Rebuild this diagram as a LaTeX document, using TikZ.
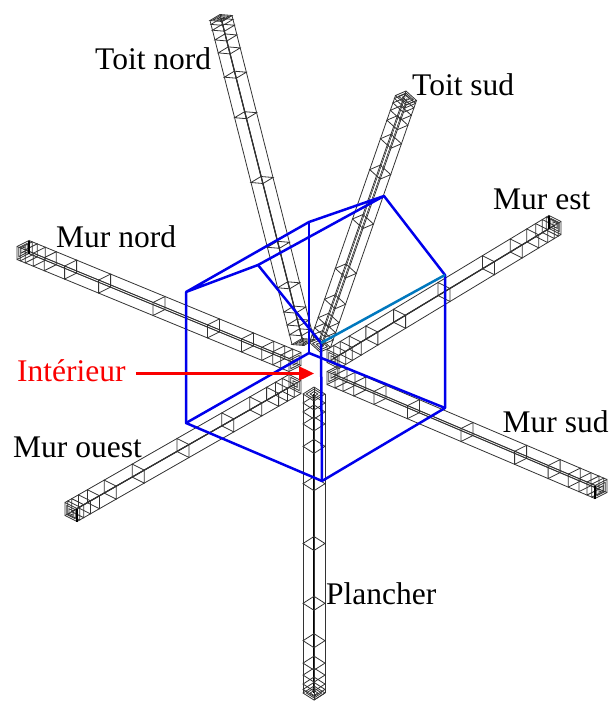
\documentclass[tikz,border=0pt]{standalone}
\usepackage{fontspec}
\setmainfont{Liberation Serif}
\usetikzlibrary{arrows.meta, calc}
\definecolor{wallblue}{RGB}{0, 0, 235}
\definecolor{ridgeblue}{RGB}{0, 120, 190}
\definecolor{arrowred}{RGB}{250, 0, 0}
% outer end, inner end, half diagonals of the section, core style, tick style
\newcommand{\beam}[6]{
  \coordinate (o) at #1;
  \coordinate (i) at #2;
  \draw[#5] (o) -- (i);
  \draw[beamline] ($(o)+#3$) -- ($(i)+#3$);
  \draw[beamline] ($(o)-#3$) -- ($(i)-#3$);
  \draw[beamline] ($(o)+#4$) -- ($(i)+#4$);
  \draw[beamline] ($(o)-#4$) -- ($(i)-#4$);
  \foreach \tt in {0,.012,.03,.06,.1,.175,.3,.5,.7,.825,.9,.94,.97,1} {
    \coordinate (c) at ($(o)!\tt!(i)$);
    \draw[beamline] ($(c)+#3$) -- ($(c)+#4$) -- ($(c)-#3$) -- ($(c)-#4$) -- cycle;
  }
  \foreach \kk in {.35,.7} {
    \draw[beamline] ($(o)+\kk*#3$) -- ($(o)+\kk*#4$) -- ($(o)-\kk*#3$) -- ($(o)-\kk*#4$) -- cycle;
    \draw[beamline] ($(i)+\kk*#3$) -- ($(i)+\kk*#4$) -- ($(i)-\kk*#3$) -- ($(i)-\kk*#4$) -- cycle;
  }
  \draw[#6] ($(o)+#3$) -- ($(o)+#4$);
}
\begin{document}
\begin{tikzpicture}[x=1pt, y=-1pt,
    beamline/.style={line width=.8pt, black!80},
    corepair/.style={double, double distance=1.5pt, line width=.7pt, black!85},
    coredark/.style={line width=1.2pt, black!90},
    corethick/.style={line width=2pt, black},
    tick/.style={line width=2pt, black},
    notick/.style={line width=.8pt, black!80},
    wall/.style={line width=2.5pt, wallblue, line join=round},
    lbl/.style={font=\fontsize{31.5}{36}\selectfont, inner sep=0pt, anchor=base west},
    arrw/.style={-{Triangle[length=15pt, width=14pt]}, line width=2.4pt, arrowred}
  ]
  \useasboundingbox (0,0) rectangle (609,701);

  % beams
  \beam{(221,18)}{(303,342)}{(11,-2.5)}{(1,3.5)}{coredark}{notick}
  \beam{(406,98)}{(320,345)}{(10.5,2.5)}{(0,7)}{corepair}{notick}
  \beam{(23,250)}{(295,362)}{(6,-9.5)}{(6,3.5)}{corepair}{tick}
  \beam{(71,512)}{(295,384)}{(6,9.5)}{(6,-3.5)}{coredark}{tick}
  \beam{(555,225)}{(333,359)}{(-6,-9.5)}{(-6,3.5)}{coredark}{tick}
  \beam{(601,489)}{(333,375)}{(-6,9.5)}{(-6,-3.5)}{corepair}{tick}
  \beam{(314,693)}{(314,394)}{(11,0)}{(0,7)}{corethick}{notick}

  % house
  \coordinate (nw) at (186,292);
  \coordinate (sw) at (186,423);
  \coordinate (front) at (322,481);
  \coordinate (se) at (445,408);
  \coordinate (ne) at (445,275);
  \coordinate (back) at (309,353);
  \coordinate (gableb) at (309,222);
  \coordinate (ridge) at (384,196);
  \coordinate (roofn) at (258,265);
  \coordinate (midc) at (321,343);
  \draw[wall] (nw) -- (sw) -- (front) -- (se) -- (ne) -- (ridge) -- (gableb) -- (nw) -- (roofn) -- (ridge);
  \draw[wall] (sw) -- (back) -- (se);
  \draw[wall] (gableb) -- (back);
  \draw[wall] (roofn) -- (midc) -- (front);
  \draw[line width=2.5pt, ridgeblue] (midc) -- (ne);

  % labels
  \node[lbl] (tnord) at (95,70) {Toit nord};
  \node[lbl] (tsud) at (412,95) {Toit sud};
  \node[lbl] (mest) at (493,209) {Mur est};
  \node[lbl] (mnord) at (56,247) {Mur nord};
  \node[lbl] (mouest) at (13,457) {Mur ouest};
  \node[lbl] (msud) at (502.5,432) {Mur sud};
  \node[lbl] (plan) at (326,604) {Plancher};
  \node[lbl, text=arrowred] (inter) at (17,381) {Intérieur};

  \coordinate (tip) at (314,373.5);
  \draw[arrw] ([xshift=10pt]inter.east |- tip) -- (tip);
\end{tikzpicture}
\end{document}
